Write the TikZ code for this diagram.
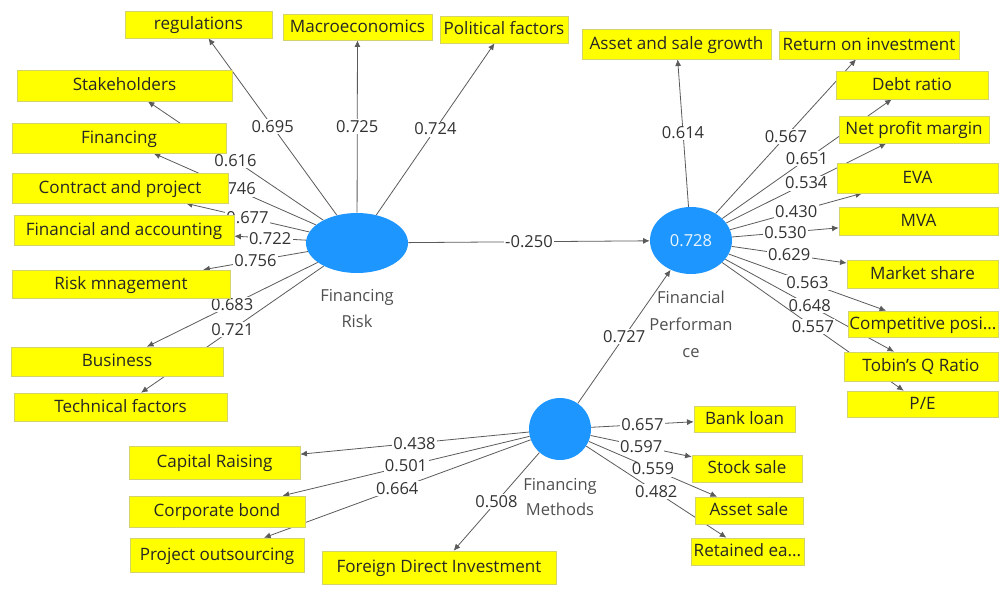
\documentclass[tikz,border=0pt]{standalone}
\usepackage{fontspec}
\setmainfont{Open Sans}
\usepackage{tikz}
\usetikzlibrary{shapes.geometric,arrows.meta,positioning}
\definecolor{plsblue}{HTML}{1E96FF}
\definecolor{boxyellow}{HTML}{FFFF00}
\definecolor{boxline}{HTML}{D2D26E}
\definecolor{linegray}{HTML}{5A5A5A}
\definecolor{txtgray}{HTML}{505050}
\pgfdeclarelayer{back}
\pgfsetlayers{back,main}
\tikzset
{
    ind/.style 2 args = {rectangle, draw=boxline, fill=boxyellow, text=black!85, inner sep=0pt, text height=1.9ex, text depth=0.4ex, minimum width=#1*0.75pt, minimum height=#2*0.75pt, font=\fontsize{12.8}{14}\selectfont},
    construct/.style  = {ellipse, fill=plsblue, inner sep=0pt},
    clabel/.style     = {align=center, text=txtgray, inner sep=1pt, font=\fontsize{12.4}{19.5}\selectfont},
    wt/.style         = {fill=white, inner sep=1pt, text=black!80, font=\fontsize{12.4}{14}\selectfont},
    load/.style       = {draw=linegray, line width=0.6pt, -{Latex[length=5pt,width=4.5pt]}}
}
\begin{document}
\begin{tikzpicture}[x=0.75pt,y=-0.75pt]
		\useasboundingbox (0,0) rectangle (999,589);
		
		% constructs
		\node[construct, minimum width=102*0.75pt, minimum height=60*0.75pt] (FR) at (357,243) {};
		\node[construct, minimum width=82*0.75pt, minimum height=67*0.75pt, text=white!90!plsblue, font=\fontsize{12.4}{14}\selectfont] (FP) at (691,240.5) {0.728};
		\node[construct, minimum width=62*0.75pt, minimum height=62*0.75pt] (FM) at (560,429) {};
		\node[clabel, below=11pt of FR] (FRt) {Financing\\Risk};
		\node[clabel, below=11pt of FP, font=\fontsize{12.4}{20.5}\selectfont] (FPt) {Financial\\Performan\\ce};
		\node[clabel, below=12pt of FM, font=\fontsize{12.4}{18.8}\selectfont] (FMt) {Financing\\Methods};
		
		% indicators of Financing Risk
		\node[ind={147}{27}] (reg) at (198.5,24.5) {regulations};
		\node[ind={149}{26}] (macro) at (357.5,27) {Macroeconomics};
		\node[ind={128}{27}] (polit) at (504,29.5) {Political factors};
		\node[ind={215}{31}] (stake) at (124.5,85.5) {Stakeholders};
		\node[ind={214}{30}] (fin) at (119,138) {Financing};
		\node[ind={216}{30}] (contr) at (120,188) {Contract and project};
		\node[ind={220}{30}] (facc) at (124,230) {Financial and accounting};
		\node[ind={218}{28}] (riskm) at (121,284) {Risk mnagement};
		\node[ind={212}{29}] (busi) at (117,361.5) {Business};
		\node[ind={213}{28}] (tech) at (120.5,407) {Technical factors};
		
		% indicators of Financial Performance
		\node[ind={189}{30}] (asg) at (676.5,44) {Asset and sale growth};
		\node[ind={180}{28}] (roi) at (869,45) {Return on investment};
		\node[ind={152}{28}] (debt) at (912,85) {Debt ratio};
		\node[ind={150}{27}] (npm) at (914,129.5) {Net profit margin};
		\node[ind={161}{30}] (eva) at (917.5,178) {EVA};
		\node[ind={159}{28}] (mva) at (918.5,221) {MVA};
		\node[ind={151}{28}] (mshare) at (922.5,274) {Market share};
		\node[ind={150}{26}] (comp) at (923,324) {Competitive posi...};
		\node[ind={154}{29}] (tobin) at (921,366.5) {Tobin's Q Ratio};
		\node[ind={151}{26}] (pe) at (922.5,404) {P/E};
		
		% indicators of Financing Methods
		\node[ind={171}{33}] (capr) at (214.5,462.5) {Capital Raising};
		\node[ind={176}{31}] (corpb) at (217,511.5) {Corporate bond};
		\node[ind={174}{34}] (proj) at (217,555) {Project outsourcing};
		\node[ind={234}{33}] (fdi) at (439,567.5) {Foreign Direct Investment};
		\node[ind={101}{26}] (bank) at (744.5,419) {Bank loan};
		\node[ind={110}{27}] (stock) at (747,468.5) {Stock sale};
		\node[ind={108}{27}] (asale) at (749,510.5) {Asset sale};
		\node[ind={113}{27}] (retain) at (747.5,551.5) {Retained ea...};
		
		\begin{pgfonlayer}{back}
		\draw[load] (FR) -- node[wt]{0.695} (reg);
		\draw[load] (FR) -- node[wt]{0.725} (macro);
		\draw[load] (FR) -- node[wt]{0.724} (polit);
		\draw[load] (FR) -- node[wt]{0.616} (stake);
		\draw[load] (FR) -- node[wt]{0.746} (fin);
		\draw[load] (FR) -- node[wt]{0.677} (contr);
		\draw[load] (FR) -- node[wt]{0.722} (facc);
		\draw[load] (FR) -- node[wt]{0.756} (riskm);
		\draw[load] (FR) -- node[wt]{0.683} (busi);
		\draw[load] (FR) -- node[wt]{0.721} (tech);
		
		\draw[load] (FR) -- node[wt]{-0.250} (FP);
		\draw[load] (FM) -- node[wt]{0.727} (FP);
		
		\draw[load] (FP) -- node[wt]{0.614} (asg);
		\draw[load] (FP) -- node[wt]{0.567} (roi);
		\draw[load] (FP) -- node[wt]{0.651} (debt);
		\draw[load] (FP) -- node[wt]{0.534} (npm);
		\draw[load] (FP) -- node[wt]{0.430} (eva);
		\draw[load] (FP) -- node[wt]{0.530} (mva);
		\draw[load] (FP) -- node[wt]{0.629} (mshare);
		\draw[load] (FP) -- node[wt]{0.563} (comp);
		\draw[load] (FP) -- node[wt]{0.648} (tobin);
		\draw[load] (FP) -- node[wt]{0.557} (pe);
		
		\draw[load] (FM) -- node[wt]{0.438} (capr);
		\draw[load] (FM) -- node[wt]{0.501} (corpb);
		\draw[load] (FM) -- node[wt]{0.664} (proj);
		\draw[load] (FM) -- node[wt]{0.508} (fdi);
		\draw[load] (FM) -- node[wt]{0.657} (bank);
		\draw[load] (FM) -- node[wt]{0.597} (stock);
		\draw[load] (FM) -- node[wt]{0.559} (asale);
		\draw[load] (FM) -- node[wt]{0.482} (retain);
		\end{pgfonlayer}
		
		\end{tikzpicture}
\end{document}
